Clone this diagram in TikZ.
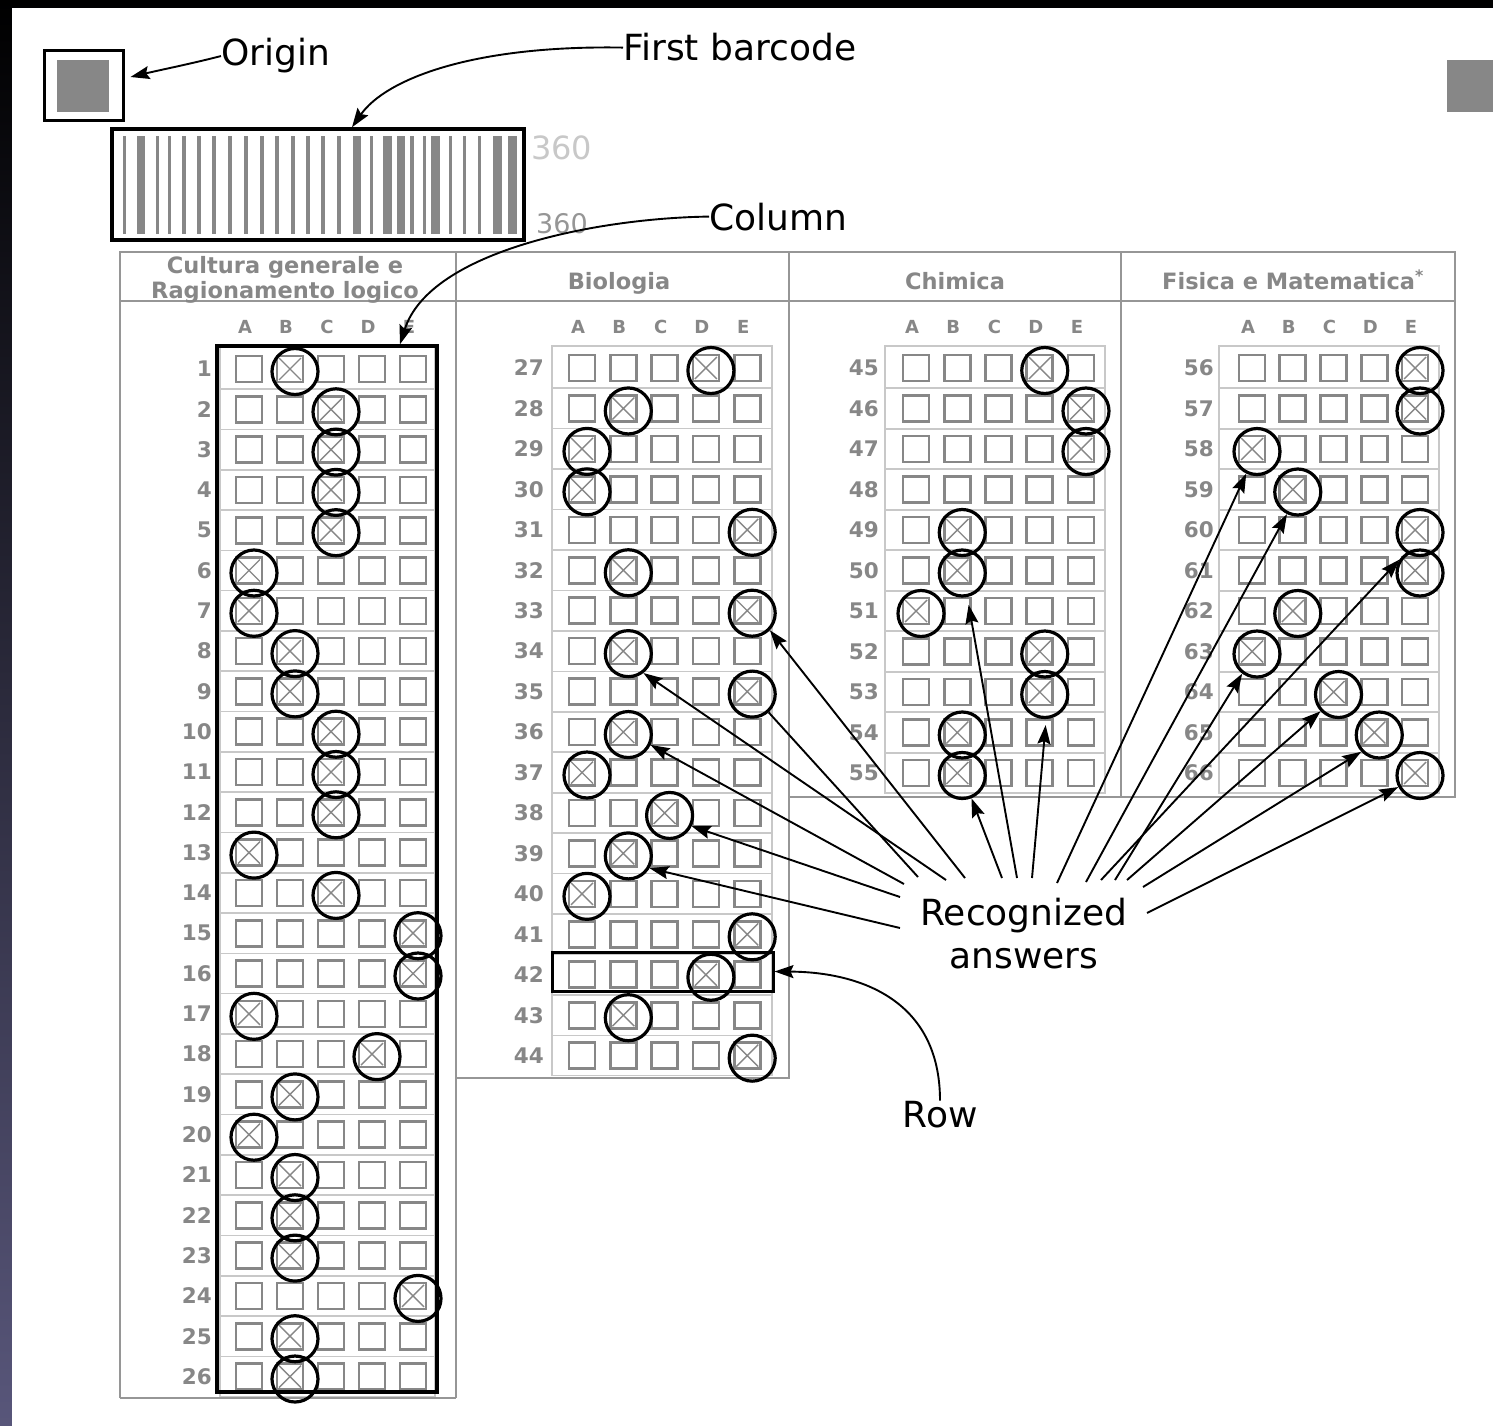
\documentclass[tikz,border=0pt]{standalone}
\usepackage{fontspec}
\setmainfont{DejaVu Sans}
\usetikzlibrary{arrows.meta,calc}
\definecolor{formgray}{RGB}{135,135,135}
\definecolor{gridgray}{RGB}{200,200,200}
\definecolor{framegray}{RGB}{150,150,150}
\definecolor{lightnum}{RGB}{200,200,200}
\definecolor{midnum}{RGB}{150,150,150}
\definecolor{darkedge}{RGB}{88,86,122}

% #1 first #2 last #3 x0 #4 dx #5 y0 #6 dy #7 number right edge #8 grid left #9 grid right
\newcommand{\formsec}[9]{%
  \foreach \L [count=\i from 0] in {A,B,C,D,E}
    \node[collet] at ({#3+\i*#4-4},327) {\L};
  \pgfmathsetmacro{\ylast}{#5+(#2-#1)*#6}
  \draw[gridln] (#8,{#5-22}) rectangle (#9,{\ylast+20});
  \foreach \n in {#1,...,#2} {
    \pgfmathsetmacro{\yy}{#5+(\n-#1)*#6}
    \node[rownum] at (#7,\yy) {\n};
    \ifnum\n<#2\relax \draw[gridln] (#8,{\yy+#6/2}) -- (#9,{\yy+#6/2}); \fi
    \foreach \i in {0,...,4}
      \draw[cellbox] ({#3+\i*#4-13},{\yy-13}) rectangle ++(26,26);
  }
}
% #1 first #2 x0 #3 dx #4 y0 #5 dy #6 list n/a
\newcommand{\formans}[6]{%
  \foreach \n/\a in {#6} {
    \pgfmathsetmacro{\yy}{#4+(\n-#1)*#5}
    \pgfmathsetmacro{\xx}{#2+(\a-1)*#3}
    \draw[cellx] (\xx-11,\yy-11) -- (\xx+11,\yy+11) (\xx-11,\yy+11) -- (\xx+11,\yy-11);
    \node[ansring] (c\n) at (\xx+5,\yy+2.5) {};
  }
}

\begin{document}
\begin{tikzpicture}[x=1pt,y=-1pt,
  cellbox/.style={draw=formgray, line width=2.6pt},
  cellx/.style={draw=formgray, line width=1.4pt},
  gridln/.style={draw=gridgray, line width=1.6pt},
  frameln/.style={draw=framegray, line width=2.4pt},
  collet/.style={font=\bfseries\fontsize{18}{18}\selectfont, text=formgray, inner sep=0},
  rownum/.style={font=\bfseries\fontsize{21.5}{21.5}\selectfont, text=formgray, anchor=east, inner sep=0},
  hdr/.style={font=\bfseries\fontsize{22.5}{22.5}\selectfont, text=formgray, inner sep=0, anchor=base},
  ansring/.style={circle, draw=black, line width=3.2pt, minimum size=46pt, inner sep=0},
  blackbox/.style={draw=black, line width=3.5pt, inner sep=0},
  lbl/.style={font=\fontsize{36}{43}\selectfont, inner sep=0, text=black},
  fan/.style={draw=black, line width=1.9pt, -{Stealth[length=19pt,width=13pt,inset=3pt]}},
  fanline/.style={draw=black, line width=1.9pt},
  carr/.style={draw=black, line width=1.9pt, -{Stealth[length=19pt,width=13pt,inset=3pt]}}
]
\useasboundingbox (0,0) rectangle (1493,1426);
\shade[top color=black, bottom color=darkedge] (0,0) rectangle (1493,1426);
\fill[white] (12,8) rectangle (1493,1426);

% ---------- form frame ----------
\draw[frameln] (120,1398) -- (120,252) -- (1455,252) -- (1455,797) -- (789,797);
\draw[frameln] (120,301) -- (1455,301);
\draw[frameln] (456,252) -- (456,1398);
\draw[frameln] (120,1398) -- (456,1398);
\draw[frameln] (789,252) -- (789,1078) -- (456,1078);
\draw[frameln] (1121,252) -- (1121,797);

\node[hdr] (h1a) at (285,273) {Cultura generale e};
\node[hdr] (h1b) at (285,298) {Ragionamento logico};
\node[hdr] (h2) at (619,289) {Biologia};
\node[hdr] (h3) at (955,289) {Chimica};
\node[hdr] (h4) at (1293,289) {Fisica e Matematica\textsuperscript{*}};

% ---------- sections ----------
\formsec{1}{26}{249}{41}{369}{40.3}{212}{220}{435}
\formsec{27}{44}{582}{41.3}{368}{40.45}{544}{552}{772}
\formsec{45}{55}{916}{41.25}{368}{40.5}{879}{885}{1105}
\formsec{56}{66}{1252}{40.75}{368}{40.5}{1214}{1219}{1439}

\formans{1}{249}{41}{369}{40.3}{1/2,2/3,3/3,4/3,5/3,6/1,7/1,8/2,9/2,10/3,11/3,12/3,13/1,14/3,15/5,16/5,17/1,18/4,19/2,20/1,21/2,22/2,23/2,24/5,25/2,26/2}
\formans{27}{582}{41.3}{368}{40.45}{27/4,28/2,29/1,30/1,31/5,32/2,33/5,34/2,35/5,36/2,37/1,38/3,39/2,40/1,41/5,42/4,43/2,44/5}
\formans{45}{916}{41.25}{368}{40.5}{45/4,46/5,47/5,49/2,50/2,51/1,52/4,53/4,54/2,55/2}
\formans{56}{1252}{40.75}{368}{40.5}{56/5,57/5,58/1,59/2,60/5,61/5,62/2,63/1,64/3,65/4,66/5}

% ---------- black frames ----------
\node[blackbox, minimum width=220pt, minimum height=1046pt] (colrect) at (327,869) {};
\node[blackbox, minimum width=221pt, minimum height=39pt, line width=3pt] (rowrect) at (662.5,971.5) {};

% barcode
\foreach \bx/\bw in {124/3,141/8,157/3,169/3,184/4,199/4,214/4,230/4,246/4,262/4,277/4,293/4,308/4,323/4,339/4,357/8,371/3,387/9,401/8,412/4,424/3,435/9,450/3,464/3,479/3,497/9,512/9}
  \fill[formgray] (\bx-\bw/2,136) rectangle (\bx+\bw/2,234);
\node[blackbox, minimum width=412pt, minimum height=111pt] (bc) at (318,184.5) {};
\node[font=\fontsize{32}{32}\selectfont, text=lightnum, anchor=base west, inner sep=0] (n360a) at (531,160) {360};
\node[font=\fontsize{27}{27}\selectfont, text=midnum, anchor=base west, inner sep=0] (n360b) at (536,233) {360};

% origin and corner marks
\fill[formgray] (57,60) rectangle (109,112);
\node[blackbox, line width=3pt, minimum width=79pt, minimum height=70pt] (orig) at (83.5,86) {};
\fill[formgray] (1447,60) rectangle (1493,112);

% ---------- labels ----------
\node[lbl, anchor=base west] (origtxt) at (221,66) {Origin};
\node[lbl, anchor=base west] (fbtxt) at (623,61) {First barcode};
\node[lbl, anchor=base west] (coltxt) at (709,230) {Column};
\node[lbl, anchor=base] (rec) at (1024,925) {Recognized};
\node[lbl, anchor=base] (ans) at (1024,968) {answers};
\node[lbl, anchor=base] (rowtxt) at (940,1127) {Row};

% ---------- curved arrows ----------
\draw[carr] (origtxt.west) .. controls (190,64) and (160,70) .. ([shift={(6pt,9pt)}]orig.east);
\draw[carr] (fbtxt.west) .. controls (470,45) and (385,80) .. ([xshift=34pt]bc.north);
\draw[carr] (coltxt.west) .. controls (600,218) and (430,250) .. ([xshift=73pt]colrect.north);
\draw[carr] (rowtxt.north) .. controls (940,1000) and (860,972) .. (rowrect.east);

% ---------- fan of arrows ----------
\coordinate (sa) at (965,878);
\coordinate (sb) at (946,880);
\coordinate (sc) at (918,877);
\coordinate (sd) at (904,884);
\coordinate (se) at (900,897);
\coordinate (sf) at (900,928);
\coordinate (sg) at (1002,878);
\coordinate (sh) at (1017,878);
\coordinate (si) at (1032,878);
\coordinate (sj) at (1057,883);
\coordinate (sk) at (1086,882);
\coordinate (sl) at (1101,880);
\coordinate (sm) at (1115,880);
\coordinate (sn) at (1127,880);
\coordinate (so) at (1143,887);
\coordinate (sp) at (1147,913);

\draw[fan] (sa) -- (c33.316);
\draw[fan] (sb) -- (c34.308);
\draw[fanline] (sc) -- (c35.312);
\draw[fan] (sd) -- (c36.335);
\draw[fan] (se) -- (c38.334);
\draw[fan] (sf) -- (c39.330);
\draw[fan] (sg) -- (c55.292);
\draw[fan] (sh) -- ([yshift=-8pt]c50.285);
\draw[fan] (si) -- ([yshift=-6pt]c53.272);
\draw[fan] (sj) -- (c58.244);
\draw[fan] (sk) -- (c59.244);
\draw[fan] (sl) -- (c61.147);
\draw[fan] (sm) -- (c63.233);
\draw[fan] (sn) -- (c64.223);
\draw[fan] (so) -- (c65.223);
\draw[fan] (sp) -- (c66.208);
\end{tikzpicture}
\end{document}
